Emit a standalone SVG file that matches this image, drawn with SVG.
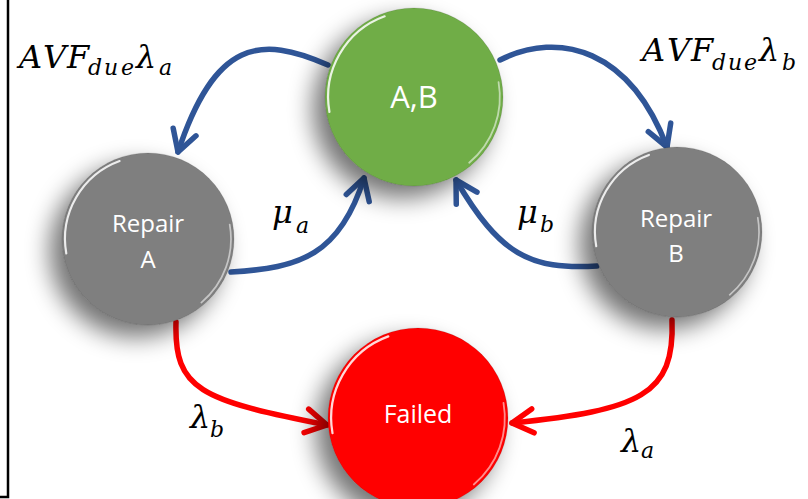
<svg xmlns="http://www.w3.org/2000/svg" xmlns:xlink="http://www.w3.org/1999/xlink" width="808" height="499" viewBox="0 0 808 499">
<style>
.node circle.body{stroke:rgba(0,0,0,0.12);stroke-width:1}
.hl{fill:none;stroke:#fff;stroke-width:2.5;stroke-linecap:round;opacity:0.85;vector-effect:non-scaling-stroke}
.hl2{fill:none;stroke:#fff;stroke-width:2;stroke-linecap:round;opacity:0.55;vector-effect:non-scaling-stroke}
.lbl{font-family:"Open Sans","Noto Sans",sans-serif;fill:#fff;text-anchor:middle}
.m{font-family:"DejaVu Serif","Liberation Serif",serif;font-style:italic;font-size:32px;fill:#000}
.s{font-size:22px}
.blue{fill:none;stroke:#2F5597;stroke-width:5.5;stroke-linecap:round}
.red{fill:none;stroke:#FF0000;stroke-width:5.5;stroke-linecap:round}
</style>
<defs>
<filter id="sh" x="-50%" y="-50%" width="200%" height="200%">
<feGaussianBlur in="SourceAlpha" stdDeviation="12"/>
<feOffset dx="-12" dy="12" result="b"/>
<feComponentTransfer><feFuncA type="linear" slope="0.55"/></feComponentTransfer>
<feMerge><feMergeNode/><feMergeNode in="SourceGraphic"/></feMerge>
</filter>
<marker id="ab" markerUnits="userSpaceOnUse" markerWidth="40" markerHeight="40" viewBox="-30 -20 40 40" refX="0" refY="0" orient="auto" overflow="visible">
<path d="M-21,-12 L0,0 L-21,12" fill="none" stroke="#2F5597" stroke-width="5.5" stroke-linecap="round" stroke-linejoin="round"/>
</marker>
<marker id="ar" markerUnits="userSpaceOnUse" markerWidth="40" markerHeight="40" viewBox="-30 -20 40 40" refX="0" refY="0" orient="auto" overflow="visible">
<path d="M-21,-12 L0,0 L-21,12" fill="none" stroke="#FF0000" stroke-width="5.5" stroke-linecap="round" stroke-linejoin="round"/>
</marker>
<path id="hlA" d="M-95,16.8 A96.5,96.5 0 0 1 -33,-90.7"/>
<path id="hlB" d="M95,-16.8 A96.5,96.5 0 0 1 62,73.9"/>
</defs>

<polyline points="0,497 8,497 8,0" fill="none" stroke="#000" stroke-width="2.5"/>

<g id="connectors">
<path class="blue" d="M328,65 C260,35 215,40 178,152" marker-end="url(#ab)"/>
<path class="blue" d="M500,60 C560,30 630,50 667,147" marker-end="url(#ab)"/>
<path class="blue" d="M231,272 C300,268 340,255 364,178" marker-end="url(#ab)"/>
<path class="blue" d="M597,266 C530,270 500,255 456,180" marker-end="url(#ab)"/>
<path class="red" d="M176,322 C174,390 200,400 327,425" marker-end="url(#ar)"/>
<path class="red" d="M672,320 C675,395 640,410 512,423" marker-end="url(#ar)"/>
</g>

<g id="node-ab" class="node">
<circle class="body" cx="414" cy="97" r="89" fill="#70AD47" filter="url(#sh)"/>
<g transform="translate(414,97) scale(0.89)"><use xlink:href="#hlA" class="hl"/><use xlink:href="#hlB" class="hl2"/></g>
<text class="lbl" x="414" y="108" font-size="31">A,B</text>
</g>

<g id="node-repair-a" class="node">
<circle class="body" cx="148" cy="239" r="86" fill="#7F7F7F" filter="url(#sh)"/>
<g transform="translate(148,239) scale(0.86)"><use xlink:href="#hlA" class="hl"/><use xlink:href="#hlB" class="hl2"/></g>
<text class="lbl" x="148" y="232" font-size="24">Repair</text>
<text class="lbl" x="148" y="268" font-size="24">A</text>
</g>

<g id="node-repair-b" class="node">
<circle class="body" cx="677" cy="232" r="85" fill="#7F7F7F" filter="url(#sh)"/>
<g transform="translate(677,232) scale(0.85)"><use xlink:href="#hlA" class="hl"/><use xlink:href="#hlB" class="hl2"/></g>
<text class="lbl" x="676" y="227" font-size="24">Repair</text>
<text class="lbl" x="676" y="262" font-size="24">B</text>
</g>

<g id="node-failed" class="node">
<circle class="body" cx="418" cy="418" r="90" fill="#FF0000" filter="url(#sh)"/>
<g transform="translate(418,418) scale(0.9)"><use xlink:href="#hlA" class="hl"/><use xlink:href="#hlB" class="hl2"/></g>
<text class="lbl" x="418" y="423" font-size="25">Failed</text>
</g>

<g id="labels">
<text class="m" y="68"><tspan x="19">A</tspan><tspan x="43">V</tspan><tspan x="67">F</tspan><tspan class="s" x="88 104 121" y="75">due</tspan><tspan x="136" y="68">λ</tspan><tspan class="s" x="159" y="75">a</tspan></text>
<text class="m" y="61"><tspan x="642">A</tspan><tspan x="667">V</tspan><tspan x="691">F</tspan><tspan class="s" x="712 728 744" y="70">due</tspan><tspan x="759" y="61">λ</tspan><tspan class="s" x="782" y="70">b</tspan></text>
<text class="m" y="223"><tspan x="272">μ</tspan><tspan class="s" x="296" y="233">a</tspan></text>
<text class="m" y="223"><tspan x="517">μ</tspan><tspan class="s" x="540" y="232">b</tspan></text>
<text class="m" y="428"><tspan x="190">λ</tspan><tspan class="s" x="210" y="437">b</tspan></text>
<text class="m" y="452"><tspan x="621">λ</tspan><tspan class="s" x="641" y="458">a</tspan></text>
</g>
</svg>
